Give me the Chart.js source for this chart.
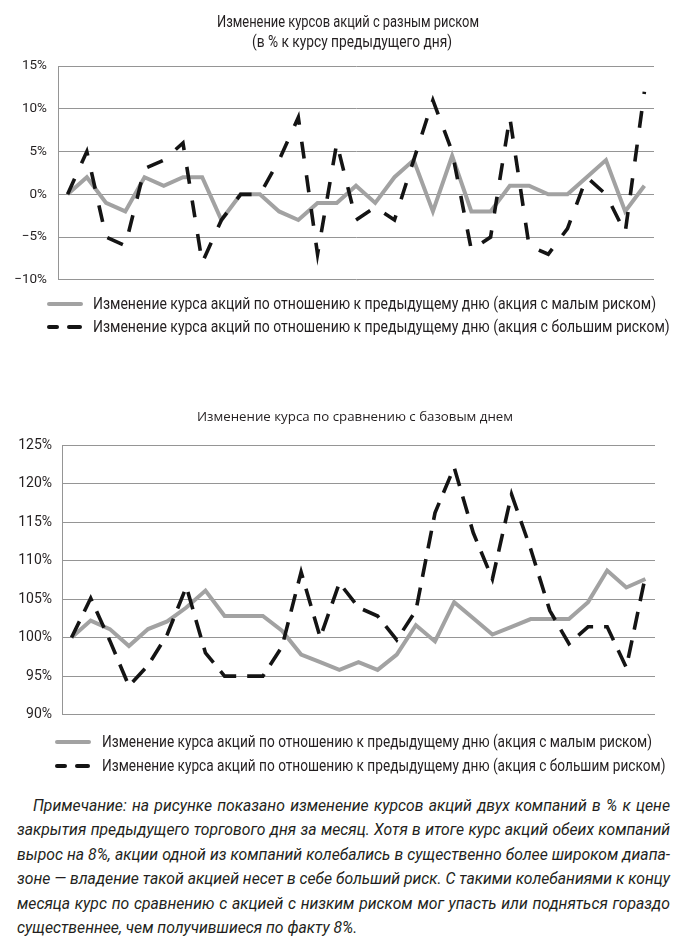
<!DOCTYPE html>
<html lang="ru">
<head>
<meta charset="utf-8">
<script src="https://cdn.jsdelivr.net/npm/chart.js@4.4.1/dist/chart.umd.min.js"></script>
<style>
  html, body { margin: 0; padding: 0; background: #fff; }
  body { width: 687px; height: 944px; position: relative; overflow: hidden;
         font-family: Roboto, 'Liberation Sans', sans-serif; color: #231f20; }
  .abs { position: absolute; }
  .fit { position: absolute; display: inline-block; white-space: nowrap; transform-origin: 0 0; }
  .sw { position: absolute; height: 4px; border-radius: 2px; }
  .note { position: absolute; left: 17px; font-style: italic; font-size: 17px; line-height: 24.4px; transform-origin: 0 0; }
  .note div { text-align: justify; text-align-last: justify; white-space: nowrap; }
  .note div.last { text-align-last: left; }
</style>
</head>
<body>
<canvas id="c1" class="abs" style="left:0;top:0;"></canvas>
<canvas id="c2" class="abs" style="left:0;top:395px;"></canvas>
<div id="texts"></div>
<div class="note" id="note" style="top:793px;"></div>

<script>
// ---------- data ----------
const days = ['1','2','3','4','5','6','7','8','9','10','11','12','13','14','15','16','17','18','19','20','21','22','23','24','25','26','27','28','29','30','31'];

// Chart 1: daily change, % to previous day
const lowRiskDaily  = [0, 2, -1, -2, 2, 1, 2, 2, -3, 0, 0, -2, -3, -1, -1, 1, -1, 2, 4, -2, 4.5, -2, -2, 1, 1, 0, 0, 2, 4, -2, 1];
const highRiskDaily = [0, 5, -5, -6, 3, 4, 6, -8, -3, 0, 0, 4, 9, -7, 6, -3, -1.5, -3, 4, 11, 5, -6.5, -5, 9, -6, -7, -4, 2, 0, -4.5, 12];
const ticks1Values = [-10, -5, 0, 5, 10, 15];
const ticks1Labels = ['\u221210%', '\u22125%', '0%', '5%', '10%', '15%'];

// Chart 2: change vs base day, %
const lowRiskCum  = [100, 102.2, 101.1, 98.9, 101.1, 102.1, 103.9, 106.1, 102.8, 102.8, 102.8, 100.9, 97.8, 96.8, 95.8, 96.8, 95.8, 97.8, 101.6, 99.5, 104.6, 102.5, 100.4, 101.4, 102.4, 102.4, 102.4, 104.6, 108.7, 106.5, 107.6];
const highRiskCum = [100, 105.1, 99.6, 93.7, 96.4, 100.4, 106.6, 98, 95, 95, 95, 98.8, 108.5, 100, 107.1, 103.9, 102.8, 99.7, 103.5, 116.2, 122.1, 113.6, 107.6, 118.6, 111.5, 103.5, 99.2, 101.4, 101.4, 96.1, 108];
const ticks2Values = [90, 95, 100, 105, 110, 115, 120, 125];
const ticks2Labels = ['90%', '95%', '100%', '105%', '110%', '115%', '120%', '125%'];

const title1 = ['Изменение курсов акций с разным риском', '(в % к курсу предыдущего дня)'];
const title2 = 'Изменение курса по сравнению с базовым днем';
const legend1 = ['Изменение курса акций по отношению к предыдущему дню (акция  с малым риском)',
                 'Изменение курса акций по отношению к предыдущему дню (акция  с большим риском)'];
const legend2 = ['Изменение курса акций по отношению к предыдущему дню (акция с малым риском)',
                 'Изменение курса акций по отношению к предыдущему дню (акция с большим риском)'];
const noteLines = [
  'Примечание: на рисунке показано изменение курсов акций двух компаний в % к цене',
  'закрытия предыдущего торгового дня за месяц. Хотя в итоге курс акций обеих компаний',
  'вырос на 8%, акции одной из компаний колебались в существенно более широком диапа-',
  'зоне — владение такой акцией несет в себе больший риск. С такими колебаниями к концу',
  'месяца курс по сравнению с акцией с низким риском мог упасть или подняться гораздо',
  'существеннее, чем получившиеся по факту 8%.'
];

// ---------- styles ----------
const GRAY = '#a2a2a2';
const BLACK = '#141414';
const GRID = '#959595';
const TEXT = '#231f20';
const SANS = "Roboto, 'Liberation Sans', sans-serif";

const host = document.getElementById('texts');
function addText(str, opts) {
  const s = document.createElement('span');
  s.className = 'fit';
  s.textContent = str;
  s.style.fontFamily = opts.family || SANS;
  s.style.fontSize = opts.size + 'px';
  s.style.lineHeight = '20px';
  s.style.top = (opts.cy - 10) + 'px';
  host.appendChild(s);
  const natural = s.getBoundingClientRect().width;
  const scale = opts.scale !== undefined ? opts.scale : opts.width / natural;
  const w = natural * scale;
  const left = opts.cx !== undefined ? opts.cx - w / 2 : opts.left;
  s.style.left = left + 'px';
  s.style.transform = 'scaleX(' + scale + ')';
  return scale;
}
function swatch(left, cy, w, color) {
  const d = document.createElement('div');
  d.className = 'sw';
  d.style.left = left + 'px'; d.style.width = w + 'px';
  d.style.top = (cy - 2) + 'px'; d.style.background = color;
  host.appendChild(d);
}

// titles
addText(title1[0], { size: 16, cx: 348, cy: 22, width: 262 });
addText(title1[1], { size: 16, cx: 352, cy: 42, width: 200 });
addText(title2, { size: 13.5, cx: 355, cy: 416, width: 316, family: "'Open Sans', 'Noto Sans', sans-serif" });

// legends
function legend(labels, y1, y2, swLeft, txtLeft, width1) {
  swatch(swLeft, y1, 36, GRAY);
  swatch(swLeft, y2, 12, BLACK);
  swatch(swLeft + 20, y2, 15, BLACK);
  const sc = addText(labels[0], { size: 16, left: txtLeft, cy: y1, width: width1 });
  addText(labels[1], { size: 16, left: txtLeft, cy: y2, scale: sc });
}
legend(legend1, 304, 327, 47, 93, 563);
legend(legend2, 742, 766, 55, 102, 550);

// note
const noteHost = document.getElementById('note');
const mctx = document.createElement('canvas').getContext('2d');
mctx.font = "italic 17px Roboto, 'Liberation Sans', sans-serif";
const widths = noteLines.map((l, i) => mctx.measureText(l).width + (i === 0 ? 18 : 0));
const noteScale = 653 / Math.max(...widths.slice(0, 5));
noteHost.style.width = (653 / noteScale) + 'px';
noteHost.style.transform = 'scaleX(' + noteScale + ')';
noteLines.forEach((l, i) => {
  const d = document.createElement('div');
  d.textContent = l;
  if (i === 0) d.style.paddingLeft = (16 / noteScale) + 'px';
  if (i === noteLines.length - 1) d.className = 'last';
  noteHost.appendChild(d);
});

function lineChart(canvasId, w, h, series1, series2, yMin, yMax, tickVals, tickLabels, pad, axisWidth, labelPad, fontSize, dash) {
  const cv = document.getElementById(canvasId);
  cv.width = w; cv.height = h;
  cv.style.width = w + 'px'; cv.style.height = h + 'px';
  return new Chart(cv, {
    type: 'line',
    data: {
      labels: days,
      datasets: [
        { label: 'low', data: series1, borderColor: GRAY, borderWidth: 4, pointRadius: 0, tension: 0,
          borderJoinStyle: 'miter', borderCapStyle: 'butt', fill: false, order: 2 },
        { label: 'high', data: series2, borderColor: BLACK, borderWidth: 3.6, pointRadius: 0, tension: 0,
          borderDash: dash, borderCapStyle: 'butt', borderJoinStyle: 'miter', fill: false, order: 1 }
      ]
    },
    options: {
      responsive: false,
      animation: false,
      devicePixelRatio: 1,
      layout: { padding: pad },
      plugins: { legend: { display: false }, title: { display: false }, tooltip: { enabled: false } },
      scales: {
        x: { display: false, offset: true, grid: { display: false } },
        y: {
          min: yMin, max: yMax,
          afterFit: (s) => { s.width = axisWidth; },
          afterBuildTicks: (s) => { s.ticks = tickVals.map(v => ({ value: v })); },
          border: { display: true, color: GRID, width: 1 },
          grid: { color: GRID, lineWidth: 1, drawTicks: false },
          ticks: {
            padding: labelPad,
            color: TEXT,
            font: { family: SANS, size: fontSize },
            callback: (v) => { const k = tickVals.indexOf(v); return k >= 0 ? tickLabels[k] : ''; }
          }
        }
      }
    }
  });
}

lineChart('c1', 687, 299, lowRiskDaily, highRiskDaily, -10, 15, ticks1Values, ticks1Labels,
          { top: 66, right: 33, bottom: 2, left: 0 }, 58, 11, 13.5, [17, 17]);
lineChart('c2', 687, 338, lowRiskCum, highRiskCum, 90, 125, ticks2Values, ticks2Labels,
          { top: 50, right: 32, bottom: 4, left: 0 }, 62, 10, 14, [18, 11]);
</script>
</body>
</html>
